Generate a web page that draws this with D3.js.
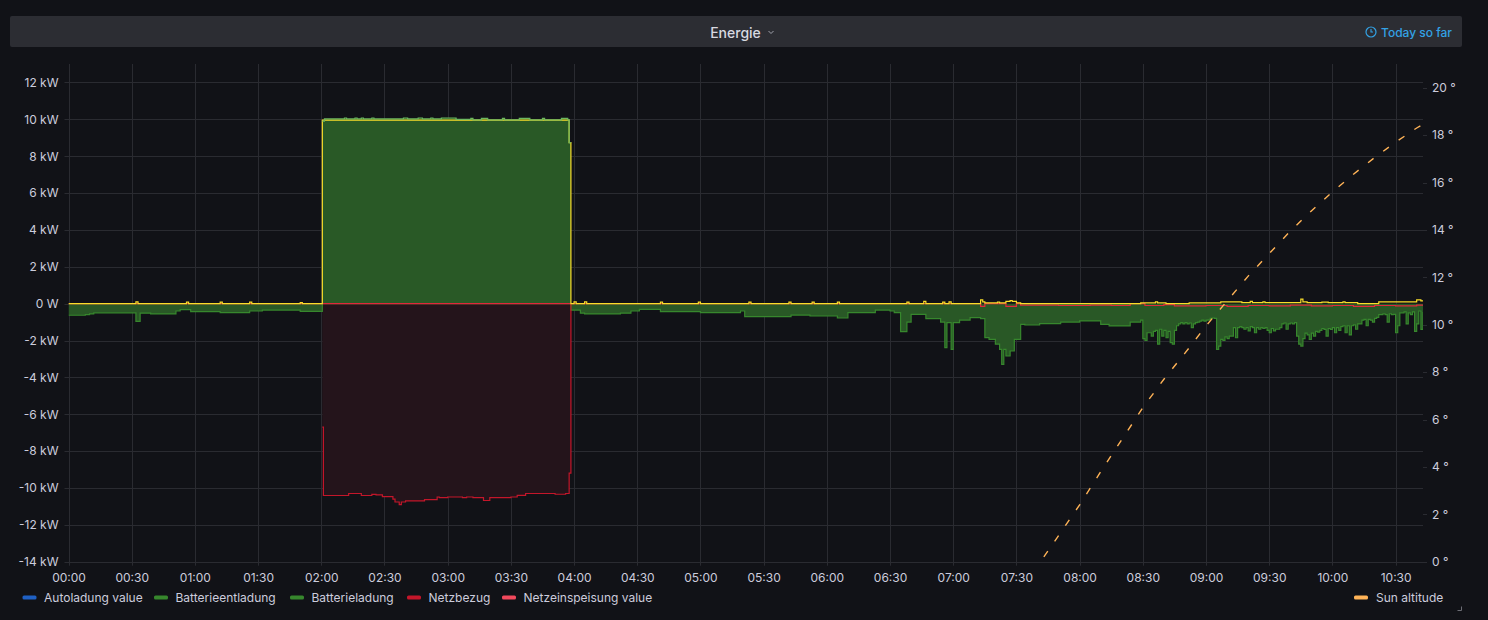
<!DOCTYPE html>
<html><head><meta charset="utf-8">
<script src="https://cdn.jsdelivr.net/npm/d3@7"></script>
<style>
html,body{margin:0;padding:0;background:#111217;}
svg{display:block;font-family:Inter,"Noto Sans",sans-serif;}
</style></head><body>
<svg id="chart" width="1488" height="620"></svg>
<script>
// ---------------- DATA ----------------
const panelTitle = "Energie";
const timeRangeLabel = "Today so far";
const leftTicks = [12,10,8,6,4,2,0,-2,-4,-6,-8,-10,-12,-14];
const rightTicks = [0,2,4,6,8,10,12,14,16,18,20];
const xStart = "00:00", xEnd = "10:43";

const legendLeft = ["Autoladung value","Batterieentladung","Batterieladung","Netzbezug","Netzeinspeisung value"];
const legendLeftColors = ["#1f60c4","#37872d","#37872d","#c4162a","#f2495c"];
const legendRight = ["Sun altitude"];
const legendRightColors = ["#ffb357"];

// Batterieentladung (kW), step values [time, value]
const batterieentladung = [
 ["00:00",-0.63],["00:08",-0.60],["00:10",-0.56],["00:12",-0.50],["00:32",-0.96],["00:34",-0.52],
 ["00:39",-0.56],["00:51",-0.40],["00:53",-0.33],["00:58",-0.43],["01:12",-0.49],["01:26",-0.40],
 ["01:32",-0.35],["01:50",-0.42],["02:00:30",0],["03:58:30",-0.35],["04:03",-0.52],["04:05",-0.56],
 ["04:22",-0.52],["04:27",-0.40],["04:31",-0.31],["04:41",-0.43],["05:00",-0.49],["05:19",-0.40],
 ["05:21",-0.70],["05:43",-0.62],["05:52",-0.67],["06:05",-0.78],["06:10",-0.49],["06:23",-0.35],
 ["06:30",-0.40],["06:32",-0.49],["06:35",-1.52],["06:38",-1.0],["06:40",-0.58],["06:47",-0.81],
 ["06:54",-1.0],["06:56",-2.39],["06:57",-1.03],["06:59",-2.48],["07:00",-1.03],["07:03",-0.89],
 ["07:08",-0.76],["07:13",-0.81],["07:15",-1.84],["07:17",-1.94],["07:20",-2.2],["07:22",-2.48],
 ["07:23",-3.3],["07:24",-2.48],["07:25",-2.84],["07:27",-2.57],["07:29",-1.94],["07:32",-1.12],
 ["07:34",-1.16],["07:41",-1.08],["07:51",-1.0],["08:00",-0.94],["08:10",-1.12],["08:14",-1.21],
 ["08:24",-1.0]
];
// per-minute Batterieentladung values from 08:29 to 10:43
const entladungDetailStart = "08:29";
const entladungDetail = [
 -0.89,-1.9,-2.0,-1.58,-1.58,-1.76,-1.5,-1.45,-2.2,-1.39,
 -1.76,-1.45,-1.85,-1.5,-2.12,-2.2,-1.45,-1.2,-1.1,-1.03,
 -1.1,-1.03,-1.1,-1.05,-1.3,-1.1,-1.03,-1.0,-0.95,-0.9,
 -0.95,-0.9,-0.88,-0.8,-0.78,-0.8,-2.48,-2.3,-1.94,-2.0,
 -1.8,-1.9,-1.76,-1.76,-1.3,-1.85,-1.3,-1.25,-1.3,-1.39,
 -1.3,-1.48,-1.25,-1.3,-1.58,-1.3,-1.39,-1.3,-1.35,-1.3,
 -1.45,-1.58,-1.35,-1.48,-1.39,-1.39,-1.3,-1.1,-1.05,-1.39,
 -1.1,-1.05,-1.1,-1.03,-1.76,-2.2,-2.3,-1.9,-1.6,-1.7,
 -1.94,-1.6,-1.76,-1.5,-1.55,-1.45,-1.35,-1.4,-1.76,-1.35,
 -1.4,-1.3,-1.58,-1.3,-1.45,-1.25,-1.2,-1.58,-1.2,-1.7,
 -1.2,-1.15,-1.39,-1.1,-1.1,-0.9,-0.85,-1.2,-0.85,-0.9,
 -1.0,-0.8,-0.75,-0.6,-0.6,-0.55,-0.6,-1.0,-0.55,-0.6,
 -0.58,-1.58,-1.2,-0.5,-0.5,-0.45,-1.1,-0.5,-0.6,-0.45,
 -1.5,-1.1,-0.4,-1.4,-0.45
];

// Batterieladung (kW)
const batterieladung = [
 ["02:00:30",9.9],["02:01:30",10.02],["02:11",10.07],["02:12",10.02],["02:16",10.07],["02:17",10.02],
 ["02:19",10.07],["02:20",10.02],["02:24",10.07],["02:25",10.02],["02:39",10.07],["02:41",10.02],
 ["02:46",10.07],["02:48",10.02],["02:52",10.07],["02:53",10.02],["02:57",10.07],["03:04",10.0],
 ["03:11",10.05],["03:12",9.97],["03:16",10.05],["03:19",9.97],["03:26",10.05],["03:27",9.97],
 ["03:34",10.05],["03:39",9.97],["03:45",10.05],["03:46",9.97],["03:54",10.05],["03:57",9.97],
 ["03:57:40",8.73],["03:58:30",8.73]
];

// Netzbezug (kW)
const netzbezug = [
 ["02:00:30",-6.7],["02:01",-10.41],["02:13",-10.3],["02:19",-10.41],["02:24",-10.35],["02:26",-10.38],
 ["02:29",-10.47],["02:34",-10.61],["02:35",-10.76],["02:37",-10.9],["02:38",-10.76],["02:40",-10.7],
 ["02:49",-10.63],["02:55",-10.49],["02:56",-10.52],["03:00",-10.49],["03:07",-10.52],["03:09",-10.49],
 ["03:12",-10.52],["03:17",-10.68],["03:20",-10.52],["03:30",-10.49],["03:33",-10.4],["03:37",-10.3],
 ["03:51",-10.34],["03:56",-10.3],["03:57:40",-9.2],["03:58:30",0],["03:58:31",0]
];

// Netzeinspeisung value (kW)
const netzeinspeisung = [
 ["00:00",0],["07:13",-0.15],["07:15",0],["07:25",-0.15],["07:30",0],["07:32",-0.08],["07:50",-0.1],
 ["08:05",-0.08],["08:15",-0.1],["08:24",0],["08:31",-0.1],["08:40",-0.05],["08:45",-0.12],["09:00",-0.1],
 ["09:10",-0.15],["09:20",-0.1],["09:30",-0.12],["09:40",-0.08],["09:50",-0.12],["10:00",-0.1],
 ["10:10",-0.15],["10:20",-0.1],["10:30",-0.12],["10:40",-0.08],["10:43",-0.08]
];

// unlabeled yellow total line (kW)
const gesamtLeistung = [
 ["00:00",0],["00:32",0.1],["00:33",0],["00:56",0.08],["00:57",0],["01:12",0.08],["01:13",0],
 ["01:26",0.08],["01:27",0],["01:50",0.06],["01:51",0],["02:00:30",9.95],["03:57:40",8.73],["03:58:30",0],
 ["04:00",0.1],["04:01",0],["04:05",0.1],["04:06",0],["04:41",0.08],["04:42",0],["04:59",0.08],["05:00",0],
 ["05:23",0.08],["05:24",0],["05:42",0.08],["05:43",0],["05:53",0.08],["05:54",0],["06:05",0.08],["06:06",0],
 ["06:38",0.08],["06:39",0],["06:46",0.12],["06:47",0],["06:55",0.08],["06:56",0],["06:58",0.1],["06:59",0],
 ["07:13",0.2],["07:14",0.1],["07:15",0.04],["07:21",0.08],["07:22",0.04],["07:25",0.12],["07:27",0.17],
 ["07:28",0.12],["07:30",0.04],["07:32",0],["08:29",0.04],["08:36",0.1],["08:37",0.04],["08:41",0],
 ["08:52",0.04],["09:07",0.1],["09:17",0.05],["09:21",0.12],["09:22",0.05],["09:27",0.1],["09:28",0.05],
 ["09:45",0.25],["09:46",0.1],["09:48",0.05],["09:55",0.08],["09:58",0.05],["10:05",0.1],["10:06",0.05],
 ["10:12",0],["10:22",0.1],["10:40",0.2],["10:42",0.15],["10:43",0.15]
];

// Sun altitude (degrees)
const sunAltitude = [
 ["07:43",0.2],["07:50",1.1],["08:00",2.4],["08:10",3.8],["08:20",5.15],["08:30",6.5],["08:40",7.7],
 ["08:50",8.8],["09:00",9.95],["09:10",11.0],["09:20",12.05],["09:30",13.0],["09:40",13.95],
 ["09:50",14.8],["10:00",15.6],["10:10",16.35],["10:20",17.05],["10:30",17.7],["10:40",18.3],["10:43",18.45]
];

// ---------------- CHART ----------------
function T(s){const p=s.split(":").map(Number);return new Date(2024,0,1,p[0],p[1],p[2]||0);}
const entladungAll = batterieentladung.map(d=>[T(d[0]),d[1]]).concat(
  entladungDetail.map((v,i)=>[d3.timeMinute.offset(T(entladungDetailStart),i),v]));
const P = s => s.map(d=>[T(d[0]),d[1]]);

const L=68.5,R=1423,TOP=64,BOT=561.7;
const svg=d3.select("#chart");
const x=d3.scaleTime().domain([T(xStart),T(xEnd)]).range([L,R]);
const y=d3.scaleLinear().domain([-14,13]).range([BOT,TOP]);
const y2=d3.scaleLinear().domain([0,21]).range([BOT,TOP]);
const grid="#2a2b31", txt="#ccccdc";

// header
svg.append("rect").attr("x",10).attr("y",16).attr("width",1452).attr("height",31).attr("rx",2).attr("fill","#2c2d33");
svg.append("text").attr("x",735.5).attr("y",32.5).attr("text-anchor","middle").attr("dominant-baseline","central")
 .attr("font-size",14).attr("font-weight",500).attr("fill","#d8d9e0").text(panelTitle);
svg.append("path").attr("d","M768.5,31 l2.5,2.5 l2.5,-2.5").attr("fill","none").attr("stroke","#9fa1ab").attr("stroke-width",1);
const blue="#33a2e5";
svg.append("circle").attr("cx",1371).attr("cy",32).attr("r",5).attr("fill","none").attr("stroke",blue).attr("stroke-width",1.2);
svg.append("path").attr("d","M1371,29 v3 h2").attr("fill","none").attr("stroke",blue).attr("stroke-width",1.1);
svg.append("text").attr("x",1381).attr("y",32.5).attr("dominant-baseline","central").attr("font-size",12).attr("font-weight",500)
 .attr("fill",blue).text(timeRangeLabel);

// grid
const xTicks=x.ticks(d3.timeMinute.every(30));
svg.append("g").selectAll("line").data(xTicks).join("line")
 .attr("x1",d=>Math.round(x(d))+0.5).attr("x2",d=>Math.round(x(d))+0.5).attr("y1",TOP).attr("y2",BOT+4).attr("stroke",grid);
svg.append("g").selectAll("line").data(leftTicks).join("line")
 .attr("x1",L-4).attr("x2",R).attr("y1",d=>Math.round(y(d))+0.5).attr("y2",d=>Math.round(y(d))+0.5).attr("stroke",grid);
svg.append("g").selectAll("line").data(rightTicks).join("line")
 .attr("x1",R).attr("x2",R+4).attr("y1",d=>Math.round(y2(d))+0.5).attr("y2",d=>Math.round(y2(d))+0.5).attr("stroke",grid);

// axes (labels)
const fmtKW=v=>v===0?"0 W":v+" kW";
const gl=svg.append("g").attr("transform",`translate(${L},0)`).call(d3.axisLeft(y).tickValues(leftTicks).tickSize(4).tickPadding(6).tickFormat(fmtKW));
const gr=svg.append("g").attr("transform",`translate(${R},0)`).call(d3.axisRight(y2).tickValues(rightTicks).tickSize(4).tickPadding(5).tickFormat(v=>v+" °"));
const gb=svg.append("g").attr("transform",`translate(0,${BOT})`).call(d3.axisBottom(x).ticks(d3.timeMinute.every(30)).tickSize(4).tickPadding(8).tickFormat(d3.timeFormat("%H:%M")));
[gl,gr,gb].forEach(g=>{g.select(".domain").remove();g.selectAll(".tick line").remove();
 g.selectAll("text").attr("fill",txt).attr("font-size",12).attr("font-family","Inter,'Noto Sans',sans-serif");});

// clip
svg.append("defs").append("clipPath").attr("id","clip").append("rect").attr("x",L).attr("y",TOP).attr("width",R-L).attr("height",BOT-TOP);
const plot=svg.append("g").attr("clip-path","url(#clip)");

const area=d3.area().curve(d3.curveStepAfter).x(d=>x(d[0])).y0(y(0)).y1(d=>y(d[1]));
const line=d3.line().curve(d3.curveStepAfter).x(d=>x(d[0])).y(d=>y(d[1]));

// fills
plot.append("path").datum(entladungAll).attr("d",area).attr("fill","#295826");
plot.append("path").datum(P(batterieladung)).attr("d",area).attr("fill","#295926");
plot.append("path").datum(P(netzbezug)).attr("d",area).attr("fill","#24141b");
// lines
plot.append("path").datum(entladungAll).attr("d",line).attr("fill","none").attr("stroke","#37872d").attr("stroke-width",1.2);
plot.append("path").datum(P(netzbezug)).attr("d",line).attr("fill","none").attr("stroke","#c4162a").attr("stroke-width",1.2);
plot.append("path").datum(P(netzeinspeisung)).attr("d",line).attr("fill","none").attr("stroke","#e0283c").attr("stroke-width",1.2);
plot.append("path").datum(P(gesamtLeistung)).attr("d",line).attr("fill","none").attr("stroke","#fade2a").attr("stroke-width",1.2);
plot.append("path").datum(P(batterieladung)).attr("d",line).attr("fill","none").attr("stroke","#6db85f").attr("stroke-width",1.2);
// sun altitude
const sunLine=d3.line().x(d=>x(d[0])).y(d=>y2(d[1]));
plot.append("path").datum(P(sunAltitude)).attr("d",sunLine).attr("fill","none").attr("stroke","#ffb357")
 .attr("stroke-width",1.4).attr("stroke-dasharray","7,12");

// legend (swatch positions as in the reference layout)
const lg=svg.append("g");
const swatchX=[22.5,154,290,407,502];
legendLeft.forEach((name,i)=>{
  const sx=swatchX[i];
  lg.append("rect").attr("x",sx).attr("y",595.5).attr("width",14).attr("height",4).attr("rx",1.5).attr("fill",legendLeftColors[i]);
  lg.append("text").attr("x",sx+21.5).attr("y",597.5).attr("dominant-baseline","central").attr("font-size",12).attr("fill",txt).text(name);
});
legendRight.forEach((name,i)=>{
  lg.append("rect").attr("x",1354).attr("y",595.5).attr("width",14).attr("height",4).attr("rx",1.5).attr("fill",legendRightColors[i]);
  lg.append("text").attr("x",1376).attr("y",597.5).attr("dominant-baseline","central").attr("font-size",12).attr("fill",txt).text(name);
});
// resize handle
svg.append("path").attr("d","M1457.5,610.5 h4 v-4").attr("fill","none").attr("stroke","#6c6d75").attr("stroke-width",1);
</script>
</body></html>
